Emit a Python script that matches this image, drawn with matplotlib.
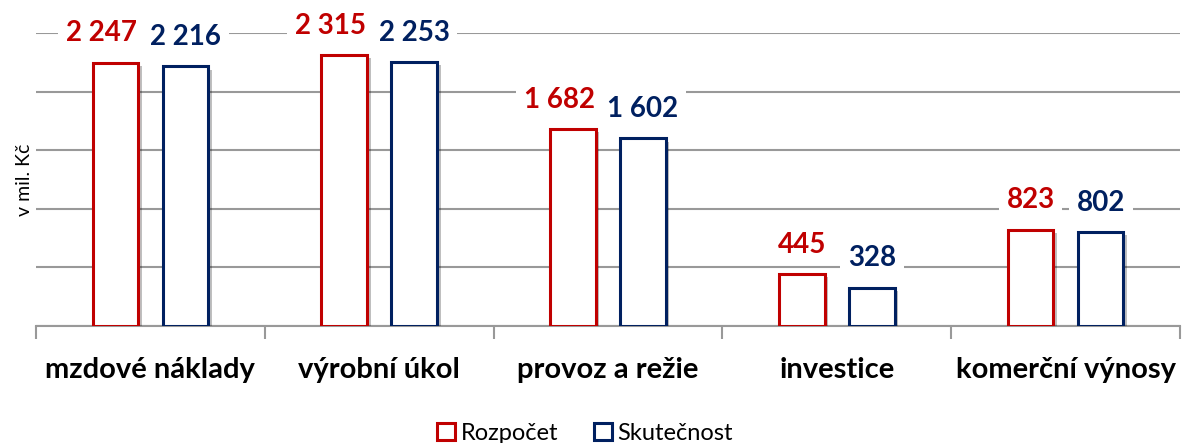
import matplotlib
matplotlib.use("Agg")
import matplotlib.pyplot as plt
import matplotlib.patheffects as pe
from matplotlib.patches import Patch
import numpy as np

categories = ["mzdové náklady", "výrobní úkol", "provoz a režie", "investice", "komerční výnosy"]
rozpocet = [2247, 2315, 1682, 445, 823]
skutecnost = [2216, 2253, 1602, 328, 802]
series_names = ["Rozpočet", "Skutečnost"]
colors = ["#C00000", "#002060"]

plt.rcParams['font.family'] = ['Lato', 'DejaVu Sans']

fig = plt.figure(figsize=(11.82, 4.43), dpi=100)
ax = fig.add_axes([36/1182, 1-326/443, (1180-36)/1182, (326-33)/443])

x = np.arange(len(categories))
w = 0.2
off = 0.153
shadow = [pe.SimplePatchShadow(offset=(2.5, -2.5), shadow_rgbFace='k', alpha=0.25), pe.Normal()]

def fmt(v):
    return f"{v:,}".replace(",", " ")

for vals, sign, col in [(rozpocet, -1, colors[0]), (skutecnost, 1, colors[1])]:
    bars = ax.bar(x + sign*off, vals, width=w, facecolor='white', edgecolor=col, linewidth=2.2, zorder=3)
    for b in bars:
        b.set_path_effects(shadow)
    for xi, v in zip(x + sign*off, vals):
        dx = -10 if (sign < 0 and v >= 1000) else 0
        ax.annotate(fmt(v), (xi, v), xytext=(dx, 21), textcoords='offset points',
                    ha='center', va='center', fontsize=20, fontweight='bold', color=col, zorder=5,
                    bbox=dict(boxstyle='square,pad=0.28', facecolor='white', edgecolor='none'))

ax.set_xlim(-0.5, len(categories)-0.5)
ax.set_ylim(0, 2500)
ax.set_yticks(np.arange(0, 2501, 500))
ax.yaxis.grid(True, color='#999999', linewidth=1.5, zorder=0)
ax.set_axisbelow(True)
ax.tick_params(axis='y', length=0, labelleft=False)
ax.set_xticks(x)
ax.set_xticklabels(categories, fontsize=21, fontweight='bold')
ax.tick_params(axis='x', length=0, pad=22)
ax.set_xticks(np.arange(-0.5, len(categories)), minor=True)
ax.tick_params(axis='x', which='minor', length=9, width=1.5, color='#999999', direction='out')
for s in ['left', 'right', 'top']:
    ax.spines[s].set_visible(False)
ax.spines['bottom'].set_color('#999999')
ax.spines['bottom'].set_linewidth(1.5)
ax.set_ylabel("v mil. Kč", fontsize=14, labelpad=2)

handles = [Patch(facecolor='white', edgecolor=c, linewidth=2.2) for c in colors]
fig.legend(handles, series_names, loc='lower center', bbox_to_anchor=(0.495, -0.05), ncol=2,
           frameon=False, fontsize=17, handlelength=0.75, handleheight=0.75, handletextpad=0.25,
           columnspacing=1.5)

fig.savefig("out.png", dpi=100)
